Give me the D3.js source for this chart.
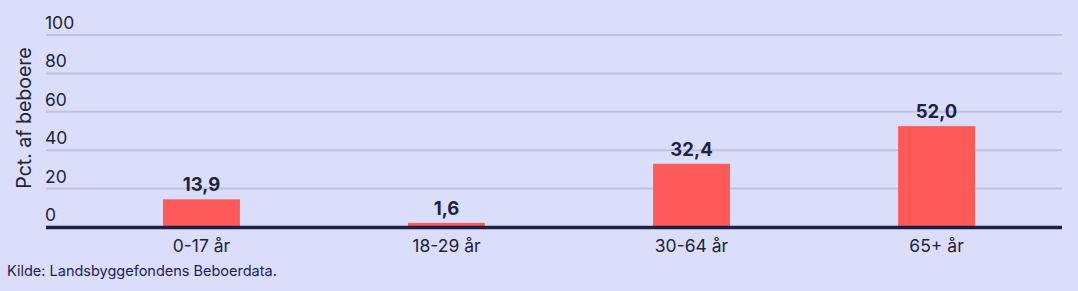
<!DOCTYPE html>
<html>
<head>
<meta charset="utf-8">
<script src="https://cdn.jsdelivr.net/npm/d3@7"></script>
<style>
  html, body { margin: 0; padding: 0; background: #dadefa; }
  svg { display: block; font-family: Inter, sans-serif; }
</style>
</head>
<body>
<div id="chart"></div>
<script>
const categories = ['0-17 år', '18-29 år', '30-64 år', '65+ år'];
const values     = [13.9, 1.6, 32.4, 52.0];
const yTicks     = [0, 20, 40, 60, 80, 100];
const yTitle     = 'Pct. af beboere';
const source     = 'Kilde: Landsbyggefondens Beboerdata.';

const WIDTH  = 1078;
const HEIGHT = 291;
const LEFT   = 46;
const RIGHT  = 1062;
const TEXT   = '#22223f';

const svg = d3.select('#chart')
  .append('svg')
    .attr('width', WIDTH)
    .attr('height', HEIGHT);

const x = d3.scaleBand()
  .domain(categories)
  .range([76, RIGHT])
  .paddingInner(0.686)
  .paddingOuter(0.355);

const y = d3.scaleLinear().domain([0, 100]).range([227, 35]);

// gridlines + tick labels sit above each line
const grid = svg.append('g')
  .selectAll('g').data(yTicks)
  .enter().append('g')
    .attr('transform', d => `translate(0,${y(d)})`);

grid.filter(d => d > 0).append('line')
  .attr('x1', LEFT).attr('x2', RIGHT)
  .attr('stroke', '#bec2de')
  .attr('stroke-width', 2);

grid.append('text')
  .attr('x', LEFT - 1)
  .attr('y', -6)
  .attr('fill', TEXT)
  .style('font-size', '17.5px')
  .text(d => d);

svg.append('text')
  .attr('transform', `translate(31,118) rotate(-90)`)
  .attr('text-anchor', 'middle')
  .attr('fill', TEXT)
  .style('font-size', '19.5px')
  .text(yTitle);

svg.append('g')
  .selectAll('rect').data(values)
  .enter().append('rect')
    .attr('x', (d, i) => x(categories[i]))
    .attr('y', d => y(d) - 1)
    .attr('width', x.bandwidth())
    .attr('height', d => y(0) - y(d) + 1)
    .attr('fill', '#ff5a5a');

svg.append('g')
  .selectAll('text').data(values)
  .enter().append('text')
    .attr('x', (d, i) => x(categories[i]) + x.bandwidth() / 2)
    .attr('y', d => y(d) - 9)
    .attr('text-anchor', 'middle')
    .attr('fill', TEXT)
    .style('font-size', '18.5px')
    .style('font-weight', 'bold')
    .text(d => d3.format('.1f')(d).replace('.', ','));

// x axis: thick baseline, no ticks
const xAxis = svg.append('g')
  .attr('transform', `translate(0,${y(0)})`);

xAxis.append('line')
  .attr('x1', LEFT).attr('x2', RIGHT)
  .attr('y1', 0.5).attr('y2', 0.5)
  .attr('stroke', '#1f1f44')
  .attr('stroke-width', 3.5);

xAxis.selectAll('text').data(categories)
  .enter().append('text')
    .attr('x', d => x(d) + x.bandwidth() / 2)
    .attr('y', 24.5)
    .attr('text-anchor', 'middle')
    .attr('fill', TEXT)
    .style('font-size', '17.5px')
    .text(d => d);

svg.append('text')
  .attr('x', 7)
  .attr('y', 276)
  .attr('fill', '#1c2060')
  .style('font-size', '14.5px')
  .text(source);
</script>
</body>
</html>
